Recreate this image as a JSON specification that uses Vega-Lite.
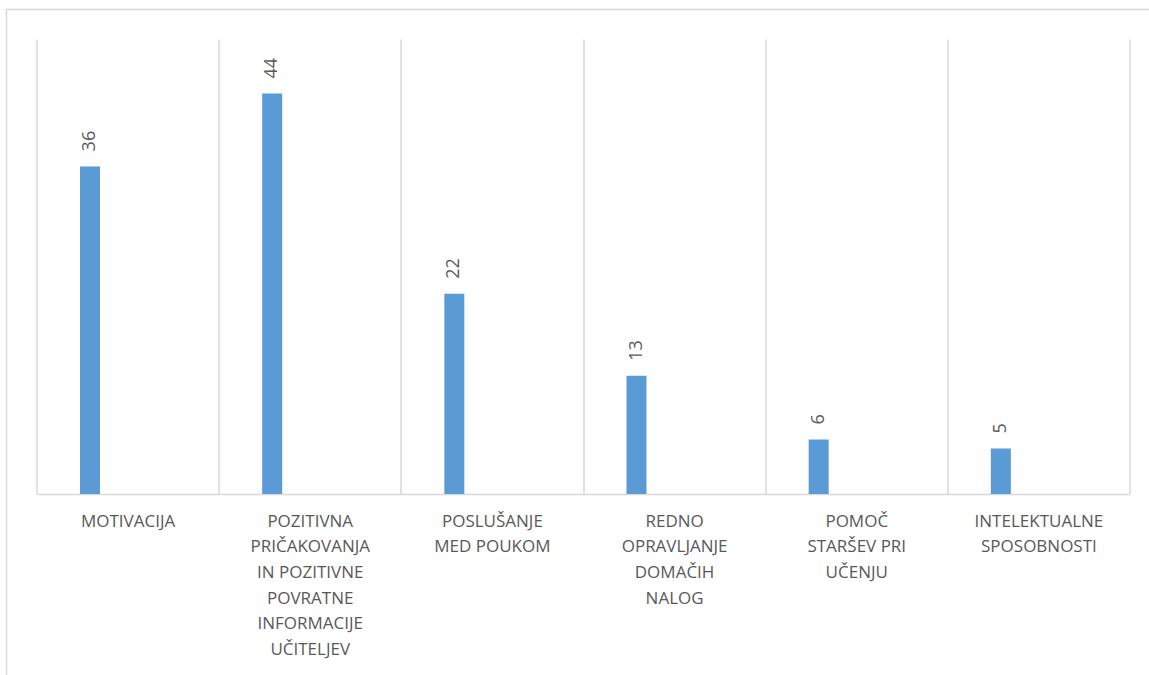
{
  "$schema": "https://vega.github.io/schema/vega-lite/v6.json",
  "width": 1150,
  "height": 680,
  "autosize": {"type": "none"},
  "padding": {"left": 6.5, "top": 9.5, "right": 0, "bottom": 0},
  "background": "white",
  "config": {
    "view": {"stroke": "#d9d9d9", "strokeWidth": 1.5},
    "font": "Open Sans"
  },
  "data": {
    "values": [
      {"kategorija": "MOTIVACIJA", "niz": "Niz 1", "vrednost": 36},
      {"kategorija": "POZITIVNA\nPRIČAKOVANJA\nIN POZITIVNE\nPOVRATNE\nINFORMACIJE\nUČITELJEV", "niz": "Niz 1", "vrednost": 44},
      {"kategorija": "POSLUŠANJE\nMED POUKOM", "niz": "Niz 1", "vrednost": 22},
      {"kategorija": "REDNO\nOPRAVLJANJE\nDOMAČIH\nNALOG", "niz": "Niz 1", "vrednost": 13},
      {"kategorija": "POMOČ\nSTARŠEV PRI\nUČENJU", "niz": "Niz 1", "vrednost": 6},
      {"kategorija": "INTELEKTUALNE\nSPOSOBNOSTI", "niz": "Niz 1", "vrednost": 5}
    ]
  },
  "encoding": {
    "xOffset": {
      "field": "niz",
      "type": "nominal",
      "scale": {"range": [43.5, 63.5], "paddingInner": 0, "paddingOuter": 0}
    },
    "y": {
      "field": "vrednost",
      "type": "quantitative",
      "scale": {"domain": [0, 50], "range": [484.5, 29.5], "nice": false, "zero": true},
      "axis": null
    }
  },
  "layer": [
    {
      "mark": {"type": "bar", "color": "#5b9bd5"},
      "encoding": {
        "x": {
          "field": "kategorija",
          "type": "nominal",
          "sort": null,
          "scale": {"range": [30, 1123], "paddingInner": 0, "paddingOuter": 0},
          "axis": {
            "title": null,
            "orient": "bottom",
            "offset": -195.5,
            "tickBand": "extent",
            "grid": false,
            "ticks": false,
            "domainColor": "#d9d9d9",
            "domainWidth": 1.5,
            "labelAngle": 0,
            "labelAlign": "center",
            "labelBaseline": "top",
            "labelExpr": "split(datum.label, '\\n')",
            "labelFont": "Open Sans",
            "labelFontSize": 17,
            "labelColor": "#595959",
            "labelLineHeight": 25.7,
            "labelPadding": 19,
            "labelLimit": 0,
            "labelOverlap": false
          }
        }
      }
    },
    {
      "mark": {
        "type": "text",
        "angle": -90,
        "align": "left",
        "baseline": "middle",
        "dx": 15,
        "font": "Open Sans",
        "fontSize": 18,
        "color": "#595959"
      },
      "encoding": {
        "x": {
          "field": "kategorija",
          "type": "nominal",
          "sort": null,
          "axis": {
            "title": null,
            "orient": "top",
            "offset": 0,
            "tickBand": "extent",
            "grid": true,
            "gridColor": "#d9d9d9",
            "gridWidth": 1.5,
            "ticks": false,
            "domain": false,
            "labels": false
          }
        },
        "text": {"field": "vrednost", "type": "quantitative"}
      }
    }
  ],
  "resolve": {"scale": {"x": "shared"}, "axis": {"x": "independent"}}
}
